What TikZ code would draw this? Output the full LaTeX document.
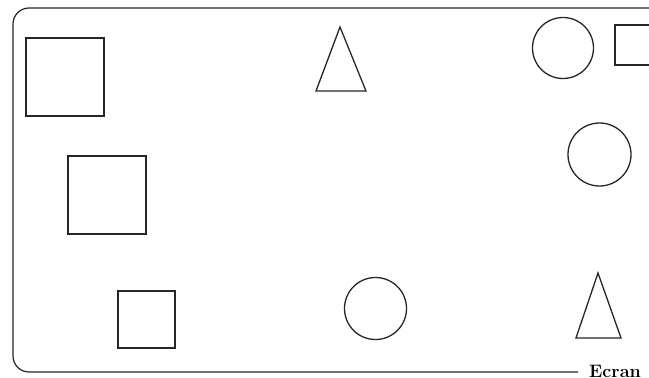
\documentclass[tikz,border=0pt]{standalone}
\begin{document}
\begin{tikzpicture}[x=1pt,y=-1pt,
  outl/.style={draw=black!85,line width=1.3pt,inner sep=0pt,outer sep=0pt},
  sq/.style={outl,rectangle,minimum width=#1,minimum height=#1},
  circ/.style={outl,circle,minimum size=#1},
  frame/.style={draw=black!85,line width=1.2pt,rounded corners=16pt}]
\useasboundingbox (0,0) rectangle (649,378);
% frame
\coordinate (fa) at (578,372);
\coordinate (fb) at (13,372);
\coordinate (fc) at (13,8);
\coordinate (fd) at (664,8);
\coordinate (fe) at (664,372);
\draw[frame] (fa) -- (fb) -- (fc) -- (fd) -- (fe);
\node[anchor=base west,inner sep=0pt,font=\fontsize{18}{20}\selectfont\bfseries] (label) at (589,377) {Ecran 1};
% squares
\node[sq=78pt] (s1) at (65,77) {};
\node[sq=78pt] (s2) at (107,195) {};
\node[sq=57pt] (s3) at (146.5,319.5) {};
\node[outl,rectangle,minimum width=40pt,minimum height=40pt] (s4) at (635,45) {};
% circles
\node[circ=61pt] (c1) at (563,48) {};
\node[circ=63pt] (c2) at (599.5,154.5) {};
\node[circ=62pt] (c3) at (375.5,308.5) {};
% triangles
\coordinate (t1a) at (340,27);
\coordinate (t1b) at (366,91);
\coordinate (t1c) at (316,91);
\draw[outl,line join=miter] (t1a) -- (t1b) -- (t1c) -- cycle;
\coordinate (t2a) at (598,273);
\coordinate (t2b) at (621,338);
\coordinate (t2c) at (576,338);
\draw[outl,line join=miter] (t2a) -- (t2b) -- (t2c) -- cycle;
\end{tikzpicture}
\end{document}
